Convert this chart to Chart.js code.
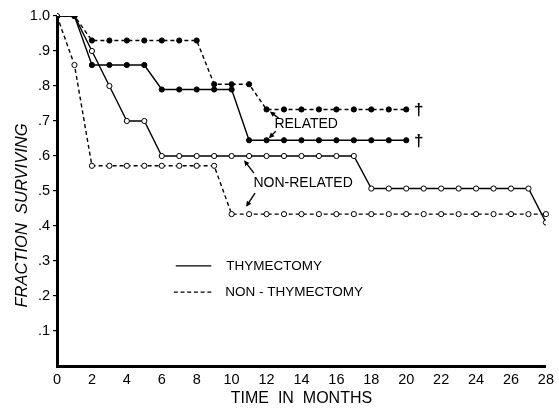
<!DOCTYPE html>
<html>
<head>
<meta charset="utf-8">
<script src="https://cdn.jsdelivr.net/npm/chart.js@4.4.1/dist/chart.umd.min.js"></script>
<style>
html,body{margin:0;padding:0;background:#fff;}
#wrap{position:relative;width:559px;height:411px;}
</style>
</head>
<body>
<div id="wrap"><canvas id="c" width="559" height="411"></canvas></div>
<script>
// ---- data ----
const relThyMonths = [0,1,2,3,4,5,6,7,8,9,10,11,12,13,14,15,16,17,18,19,20];
const relThy      = [1.0,1.0,.86,.86,.86,.86,.79,.79,.79,.79,.79,.645,.645,.645,.645,.645,.645,.645,.645,.645,.645];

const relNonMonths = [0,1,2,3,4,5,6,7,8,9,10,11,12,13,14,15,16,17,18,19,20];
const relNon      = [1.0,1.0,.93,.93,.93,.93,.93,.93,.93,.805,.805,.805,.733,.733,.733,.733,.733,.733,.733,.733,.733];

const nonThyMonths = [0,1,2,3,4,5,6,7,8,9,10,11,12,13,14,15,16,17,18,19,20,21,22,23,24,25,26,27,28];
const nonThy      = [1.0,1.0,.90,.80,.70,.70,.60,.60,.60,.60,.60,.60,.60,.60,.60,.60,.60,.60,.507,.507,.507,.507,.507,.507,.507,.507,.507,.507,.41];

const nonNonMonths = [0,1,2,3,4,5,6,7,8,9,10,11,12,13,14,15,16,17,18,19,20,21,22,23,24,25,26,27,28,28.4];
const nonNon      = [1.0,.86,.572,.572,.572,.572,.572,.572,.572,.572,.434,.434,.434,.434,.434,.434,.434,.434,.434,.434,.434,.434,.434,.434,.434,.434,.434,.434,.434,.434];

const xTicks = [0,2,4,6,8,10,12,14,16,18,20,22,24,26,28];
const yTicks = [1.0,.9,.8,.7,.6,.5,.4,.3,.2,.1];

const legendLabels = ['THYMECTOMY','NON - THYMECTOMY'];
const groupLabels = ['RELATED','NON-RELATED'];
const xTitle = 'TIME  IN  MONTHS';
const yTitle = 'FRACTION  SURVIVING';

function pts(xs, ys){ return xs.map((x,i)=>({x:x,y:ys[i]})); }

const FONT = "'Liberation Sans', Arial, Helvetica, sans-serif";

const annot = {
  id:'annot',
  afterDatasetsDraw(chart){
    const ctx = chart.ctx, xs = chart.scales.x, ys = chart.scales.y;
    const X = v=>xs.getPixelForValue(v), Y = v=>ys.getPixelForValue(v);
    ctx.save();
    ctx.fillStyle = '#000'; ctx.strokeStyle = '#000';
    // group labels
    ctx.font = '14px ' + FONT;
    ctx.textBaseline = 'middle'; ctx.textAlign = 'left';
    ctx.fillText(groupLabels[0], X(12.45), Y(0.69));
    ctx.fillText(groupLabels[1], X(11.25), Y(0.523));
    // arrows
    function arrow(x1,y1,x2,y2){
      const ax=X(x1), ay=Y(y1), bx=X(x2), by=Y(y2);
      const ang=Math.atan2(by-ay,bx-ax), L=6, W=0.45;
      ctx.lineWidth=1.4; ctx.setLineDash([]);
      ctx.beginPath(); ctx.moveTo(ax,ay); ctx.lineTo(bx-Math.cos(ang)*3,by-Math.sin(ang)*3); ctx.stroke();
      ctx.beginPath(); ctx.moveTo(bx,by);
      ctx.lineTo(bx-L*Math.cos(ang-W), by-L*Math.sin(ang-W));
      ctx.lineTo(bx-L*Math.cos(ang+W), by-L*Math.sin(ang+W));
      ctx.closePath(); ctx.fill();
    }
    arrow(12.7,.708,12.19,.727);
    arrow(12.53,.671,12.13,.651);
    arrow(11.28,.551,10.71,.588);
    arrow(11.34,.494,10.83,.455);
    // daggers
    ctx.font = 'bold 17px ' + FONT;
    ctx.textAlign='left';
    ctx.fillText('\u2020', X(20.45), Y(.733)+1);
    ctx.fillText('\u2020', X(20.45), Y(.645)+1);
    // legend
    ctx.lineWidth=1.4;
    ctx.setLineDash([]);
    ctx.beginPath(); ctx.moveTo(X(6.80),Y(.286)); ctx.lineTo(X(8.84),Y(.286)); ctx.stroke();
    ctx.setLineDash([4,2.7]);
    ctx.beginPath(); ctx.moveTo(X(6.69),Y(.211)); ctx.lineTo(X(8.96),Y(.211)); ctx.stroke();
    ctx.setLineDash([]);
    ctx.font = '13.5px ' + FONT;
    ctx.fillText(legendLabels[0], X(9.69), Y(.286));
    ctx.fillText(legendLabels[1], X(9.64), Y(.211));
    // y title
    ctx.save();
    ctx.translate(22, Y(0.43));
    ctx.rotate(-Math.PI/2);
    ctx.font = 'italic 16.5px ' + FONT;
    ctx.textAlign = 'center'; ctx.textBaseline = 'middle';
    ctx.fillText(yTitle, 0, 0);
    ctx.restore();
    ctx.restore();
  }
};

const common = {borderColor:'#000', borderWidth:1.4, pointRadius:2.6, pointBorderWidth:1, pointBorderColor:'#000', tension:0, fill:false};

new Chart(document.getElementById('c'), {
  type:'line',
  data:{datasets:[
    Object.assign({label:'Related thymectomy', data:pts(relThyMonths,relThy), pointBackgroundColor:'#000'}, common),
    Object.assign({label:'Related non-thymectomy', data:pts(relNonMonths,relNon), pointBackgroundColor:'#000', borderDash:[4,3]}, common),
    Object.assign({label:'Non-related thymectomy', data:pts(nonThyMonths,nonThy), pointBackgroundColor:'#fff'}, common),
    Object.assign({label:'Non-related non-thymectomy', data:pts(nonNonMonths,nonNon), pointBackgroundColor:'#fff', borderDash:[4,3],
      pointRadius:nonNonMonths.map(m=>Number.isInteger(m)?2.6:0), clip:{left:0,top:5,right:8,bottom:0}}, Object.fromEntries(Object.entries(common).filter(([k])=>k!=='pointRadius')))
  ]},
  options:{
    responsive:false, animation:false,
    layout:{padding:{top:16,right:8,left:0,bottom:0}},
    plugins:{legend:{display:false}, tooltip:{enabled:false}},
    scales:{
      x:{type:'linear', min:0, max:28,
        afterBuildTicks(s){ s.ticks = xTicks.map(v=>({value:v})); },
        afterFit(s){ s.height = 45; },
        grid:{drawOnChartArea:false, drawTicks:false},
        border:{display:true, width:3, color:'#000'},
        ticks:{color:'#000', padding:5, font:{family:FONT, size:14.5}, maxRotation:0, callback:v=>String(v)},
        title:{display:true, text:xTitle, color:'#000', font:{family:FONT, size:16}, padding:{top:0,bottom:3}}
      },
      y:{type:'linear', min:0, max:1.0,
        afterBuildTicks(s){ s.ticks = yTicks.map(v=>({value:v})); },
        afterFit(s){ s.width = 57; },
        grid:{drawOnChartArea:false, drawTicks:true, tickLength:4, color:'#000', lineWidth:1.2},
        border:{display:true, width:3, color:'#000'},
        ticks:{color:'#000', padding:3, font:{family:FONT, size:14.5},
          callback:v=> v>=0.999 ? '1.0' : ('.' + Math.round(v*10))},
        title:{display:false}
      }
    }
  },
  plugins:[annot]
});
</script>
</body>
</html>
